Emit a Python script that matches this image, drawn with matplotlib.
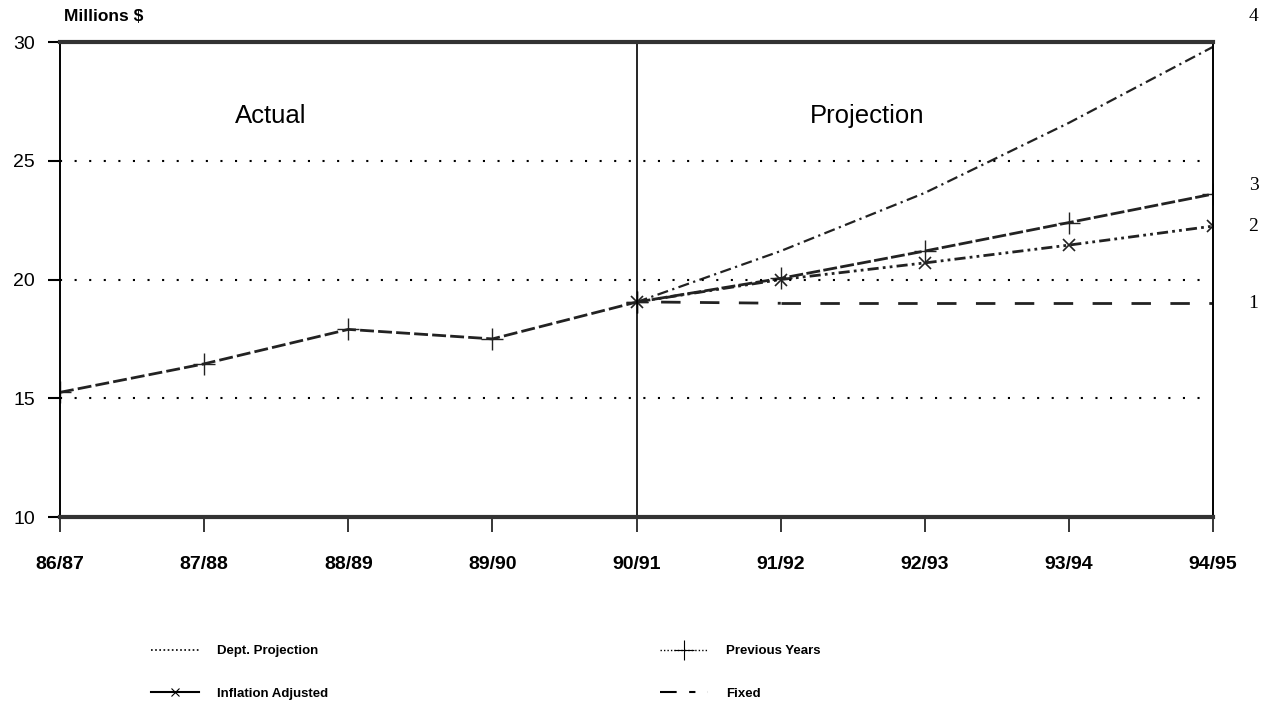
import matplotlib
matplotlib.use("Agg")
import matplotlib.pyplot as plt
from matplotlib.lines import Line2D

# years on the x axis
years = ["86/87", "87/88", "88/89", "89/90", "90/91",
         "91/92", "92/93", "93/94", "94/95"]

# actual spending 86/87 .. 90/91
actual = [15.25, 16.45, 17.9, 17.5, 19.05]

# projections 90/91 .. 94/95
dept_proj = [19.05, 21.2, 23.65, 26.6, 29.8]
prev_years = [19.05, 20.05, 21.2, 22.4, 23.6]
infl_adj = [19.05, 20.0, 20.7, 21.45, 22.25]
fixed = [19.05, 19.0, 19.0, 19.0, 19.0]

series_names = ["Dept. Projection", "Inflation Adjusted", "Previous Years", "Fixed"]
end_labels = ["4", "2", "3", "1"]

plt.rcParams['font.family'] = ['Liberation Sans', 'DejaVu Sans']

fig = plt.figure(figsize=(12.69, 7.10), dpi=100)
ax = fig.add_axes([0.0473, 0.2718, 0.9087, 0.669])

xa = list(range(len(actual)))
xp = list(range(len(actual) - 1, len(years)))

ax.plot(xa, actual, color="#222222", lw=2, ls=(0, (5, 1.5)),
        marker="+", ms=16, mew=1, mec="#222222")

# projections
ax.plot(xp, dept_proj, color="#222222", lw=1.6, ls=(0, (5, 2, 1, 2)))
ax.plot(xp, prev_years, color="#222222", lw=2, ls=(0, (5, 1.2)),
        marker="+", ms=16, mew=1)
ax.plot(xp, infl_adj, color="#222222", lw=2, ls=(0, (4, 1.5, 1, 1.5, 1, 1.5)),
        marker="x", ms=8, mew=1.2)
ax.plot(xp[1:], fixed[1:], color="#222222", lw=2, ls=(0, (7, 7)))
ax.plot([xp[0] + 0.17, xp[1]], [fixed[0], fixed[1]], color="#222222", lw=2, ls=(0, (7, 7)))

# dotted grid
for g in [15, 20, 25]:
    ax.axhline(g, xmin=0, xmax=0.993, color="black", lw=1.5, ls=(0, (1, 6)))

ax.axvline(4, color="black", lw=1.2)

ax.set_xlim(0, 8)
ax.set_ylim(10, 30)
ax.set_xticks(range(len(years)))
ax.set_xticklabels(years, fontsize=14, fontweight="bold")
ax.set_yticks([10, 15, 20, 25, 30])
ax.set_yticklabels(["10", "15", "20", "25", "30"], fontsize=14)
ax.tick_params(axis="x", length=11, width=1.1, pad=17, direction="out")
ax.tick_params(axis="y", length=9, width=1.5, pad=9, direction="out")

for s in ["top", "bottom"]:
    ax.spines[s].set_linewidth(3)
    ax.spines[s].set_color("#333333")
for s in ["left", "right"]:
    ax.spines[s].set_linewidth(1.4)

ax.text(1.46, 26.9, "Actual", fontsize=18.5, ha="center", va="center")
ax.text(5.6, 26.9, "Projection", fontsize=18.5, ha="center", va="center")
ax.text(0.03, 30.75, "Millions $", fontsize=12.5, fontweight="bold", ha="left", va="bottom")

# series numbers at the right end
ends = [dept_proj[-1], infl_adj[-1], prev_years[-1], fixed[-1]]
offs = [22, 0, 6, 0]
for lab, v, o in zip(end_labels, ends, offs):
    ax.annotate(lab, xy=(8, v), xytext=(29, o), textcoords="offset points",
                fontsize=14, family="Liberation Serif", ha="center", va="center",
                annotation_clip=False)

handles = [
    Line2D([], [], color="black", lw=1.2, ls=(0, (1, 1.5))),
    Line2D([], [], color="black", lw=1.5, marker="x", ms=6, mew=0.8,
           markevery=[1], ls="-"),
    Line2D([], [], color="black", lw=1.0, ls=(0, (1, 1.5)), marker="+", ms=14,
           mew=0.8, markevery=[1]),
    Line2D([], [], color="black", lw=1.5, ls=(0, (8, 6, 3, 6))),
]
for h in handles[1:3]:
    h.set_xdata([0, 0.5, 1])
    h.set_ydata([0, 0, 0])

leg_kw = dict(loc="upper left", frameon=False, fontsize=9.5, handlelength=3.6,
              handletextpad=1.4, labelspacing=2.3)
leg1 = fig.legend(handles[:2], series_names[:2], bbox_to_anchor=(0.110, 0.108), **leg_kw)
leg2 = fig.legend(handles[2:], series_names[2:], bbox_to_anchor=(0.511, 0.108), **leg_kw)
for leg in [leg1, leg2]:
    for t in leg.get_texts():
        t.set_fontweight("bold")

fig.savefig("out.png", dpi=100)
